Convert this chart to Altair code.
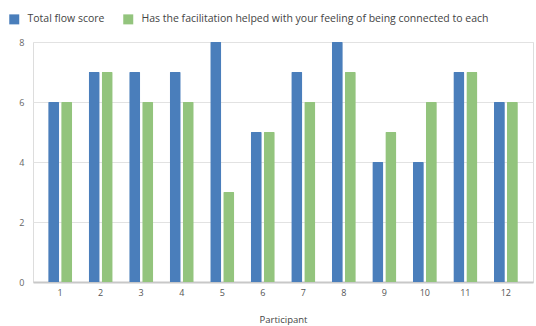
import altair as alt
import pandas as pd

participants = [str(i) for i in range(1, 13)]
series_names = [
    "Total flow score",
    "Has the facilitation helped with your feeling of being connected to each",
]
flow_score = [6, 7, 7, 7, 8, 5, 7, 8, 4, 4, 7, 6]
connected = [6, 7, 6, 6, 3, 5, 6, 7, 5, 6, 7, 6]
y_ticks = [0, 2, 4, 6, 8]
colors = ["#4a7ebb", "#93c47d"]

rows = []
for p, a, b in zip(participants, flow_score, connected):
    rows.append({"Participant": p, "series": series_names[0], "value": a})
    rows.append({"Participant": p, "series": series_names[1], "value": b})
df = pd.DataFrame(rows)

font = "Open Sans"

bars = alt.Chart(df).mark_bar(cornerRadiusTopLeft=1, cornerRadiusTopRight=1).encode(
    x=alt.X(
        "Participant:N",
        sort=participants,
        scale=alt.Scale(paddingInner=0, paddingOuter=0.17),
        axis=alt.Axis(
            title="Participant",
            labelAngle=0,
            ticks=False,
            domainColor="#c8c8c8",
            domainWidth=2,
            labelColor="#555555",
            labelFontSize=9,
            labelPadding=6,
            titleColor="#444444",
            titleFontSize=9.5,
            titleFontWeight="normal",
            titlePadding=17,
            grid=False,
        ),
    ),
    xOffset=alt.XOffset(
        "series:N",
        sort=series_names,
        scale=alt.Scale(paddingInner=0.154, paddingOuter=0.635),
    ),
    y=alt.Y(
        "value:Q",
        scale=alt.Scale(domain=[0, 8], nice=False),
        axis=alt.Axis(
            title=None,
            values=y_ticks,
            ticks=False,
            domain=False,
            gridColor="#e2e2e2",
            labelColor="#666666",
            labelFontSize=9,
            labelPadding=9,
        ),
    ),
    color=alt.Color(
        "series:N",
        sort=series_names,
        scale=alt.Scale(domain=series_names, range=colors),
        legend=alt.Legend(
            title=None,
            orient="none",
            direction="horizontal",
            legendX=-24,
            legendY=-28,
            symbolType="square",
            symbolSize=100,
            symbolStrokeWidth=0,
            labelFontSize=10.5,
            labelColor="#444444",
            labelOffset=8,
            columnPadding=18,
            labelLimit=450,
        ),
    ),
)

chart = bars.properties(
    width=500,
    height=240,
    autosize=alt.AutoSizeParams(type="none"),
    padding={"left": 33, "top": 42, "right": 3, "bottom": 44},
).configure_view(stroke=None).configure(font=font)

chart.save("out.html", embed_options={"renderer": "svg", "actions": False})
